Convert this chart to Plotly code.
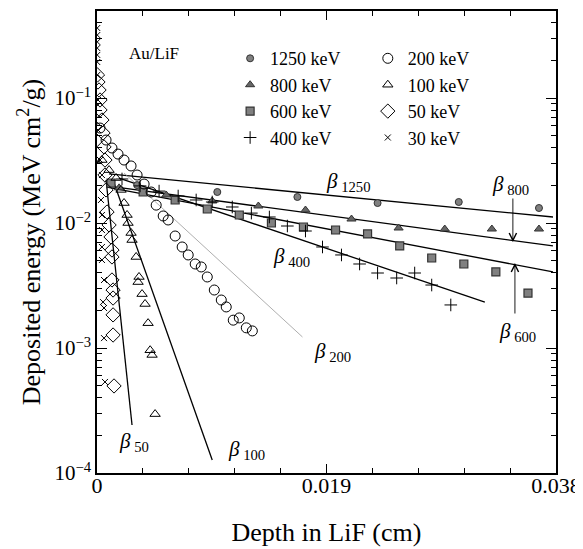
import plotly.graph_objects as go

# depth in LiF (cm) and deposited energy (MeV cm^2/g)
x_1250 = [0.00332, 0.00996, 0.01659, 0.02323, 0.02995, 0.03659]
y_1250 = [0.0201, 0.0177, 0.01615, 0.01445, 0.01472, 0.01318]

x_800 = [0.00183, 0.00573, 0.00954, 0.01336, 0.01726, 0.02107, 0.02497, 0.02879, 0.03269, 0.03659]
y_800 = [0.0191, 0.01675, 0.0150, 0.01368, 0.0127, 0.01076, 0.00912, 0.00895, 0.00895, 0.00895]

x_600 = [0.00116, 0.00382, 0.00647, 0.00913, 0.01178, 0.01444, 0.01709, 0.01975, 0.0224,
         0.02506, 0.02771, 0.03037, 0.03302, 0.03568]
y_600 = [0.0209, 0.0177, 0.01528, 0.01294, 0.01159, 0.0100, 0.00929, 0.00879, 0.00817,
         0.00655, 0.00525, 0.0047, 0.00406, 0.00275]

x_400 = [0.00207, 0.00357, 0.00514, 0.00672, 0.00821, 0.00954, 0.0112, 0.01278, 0.01427, 0.01576,
         0.01726, 0.01867, 0.02024, 0.02174, 0.02323, 0.02481, 0.0263, 0.02771, 0.02929]
y_400 = [0.0225, 0.0198, 0.018, 0.01644, 0.01528, 0.01472, 0.01343, 0.0120, 0.01117, 0.00946,
         0.00863, 0.00643, 0.00555, 0.0047, 0.00398, 0.00363, 0.00398, 0.00319, 0.00221]

x_200 = [0.00025, 0.00075, 0.00124, 0.00174, 0.00224, 0.00282, 0.00332, 0.0039, 0.00448, 0.0049,
         0.00548, 0.00589, 0.00647, 0.00705, 0.00755, 0.00813, 0.00863, 0.00913, 0.00971, 0.01029,
         0.0107, 0.01128, 0.01178, 0.01236, 0.01286]
y_200 = [0.0575, 0.0461, 0.0398, 0.0356, 0.0319, 0.0286, 0.0242, 0.0205, 0.0177, 0.0139,
         0.01138, 0.01057, 0.00787, 0.00643, 0.00555, 0.0047, 0.00445, 0.0037, 0.00291, 0.00242,
         0.00213, 0.00167, 0.00174, 0.00145, 0.00137]

x_100 = [0.00041, 0.001, 0.00158, 0.00199, 0.00224, 0.00249, 0.00257, 0.00282, 0.0029, 0.00324,
         0.0034, 0.00348, 0.00373, 0.00398, 0.00423, 0.0044, 0.00456, 0.00481]
y_100 = [0.0319, 0.0265, 0.0229, 0.0184, 0.01445, 0.01159, 0.0100, 0.00832, 0.00731, 0.00535,
         0.00337, 0.0037, 0.0027, 0.00225, 0.00158, 0.00096, 0.00088, 0.000296]

x_50 = [0.00004, 0.00008, 0.00017, 0.00025, 0.00025, 0.00041, 0.0005, 0.00058, 0.00066, 0.00066,
        0.00075, 0.00083, 0.001, 0.00116, 0.00124, 0.00124, 0.00124, 0.00133, 0.00133, 0.00133,
        0.00133, 0.00141]
y_50 = [0.1528, 0.1343, 0.1159, 0.0964, 0.0802, 0.0667, 0.0525, 0.0406, 0.0319, 0.0242,
        0.0184, 0.01225, 0.00964, 0.00773, 0.00608, 0.00535, 0.0035, 0.00291, 0.00251, 0.00184,
        0.00127, 0.000497]

x_30 = [0.00002, 0.00002, 0.00002, 0.00002, 0.00002, 0.00002, 0.00002, 0.00008, 0.00008, 0.00025,
        0.00041, 0.00033, 0.00041, 0.00041, 0.00041, 0.00041, 0.00058, 0.0005, 0.00058, 0.00058, 0.00066]
y_30 = [0.363, 0.319, 0.281, 0.251, 0.221, 0.194, 0.1528, 0.0964, 0.0555, 0.0319,
        0.0242, 0.01528, 0.01159, 0.00879, 0.00643, 0.00506, 0.0035, 0.00233, 0.00209, 0.0012, 0.000535]

# fitted exponential lines (start / end points)
beta_names = ["1250", "800", "600", "400", "200", "100", "50"]
beta_x = [[0.00099, 0.03775], [0.00083, 0.03775], [0.00083, 0.03775], [0.00183, 0.03211],
          [0.00224, 0.01701], [0.00141, 0.00954], [0.00075, 0.0029]]
beta_y = [[0.0247, 0.01117], [0.0198, 0.00655], [0.0194, 0.00406], [0.0229, 0.00233],
          [0.0251, 0.001225], [0.0209, 0.000127], [0.0221, 0.000242]]
# label anchor (left edge, log10 of y)
beta_label_x = [0.01883, 0.03252, 0.0331, 0.01444, 0.01784, 0.0107, 0.00166]
beta_label_logy = [-1.672, -1.696, -2.872, -2.272, -3.032, -3.816, -3.752]

minor_y = [m * 10.0 ** e for e in range(-4, 0) for m in range(2, 10)]

FONT = "Liberation Serif"
DARK = "#333333"
GRAY = "#808080"

fig = go.Figure()

for i, name in enumerate(beta_names):
    fig.add_trace(go.Scatter(
        x=beta_x[i], y=beta_y[i], mode="lines",
        line=dict(color="#999999" if name == "200" else "black", width=0.8 if name == "200" else 1.3),
        showlegend=False, hoverinfo="skip",
    ))

series = [
    ("1250 keV", x_1250, y_1250, dict(symbol="circle", size=7, color=GRAY, line=dict(color=DARK, width=1)), "legend"),
    ("800 keV", x_800, y_800, dict(symbol="triangle-up", size=8, color="#666666", line=dict(color=DARK, width=1)), "legend"),
    ("600 keV", x_600, y_600, dict(symbol="square", size=8, color=GRAY, line=dict(color=DARK, width=1.2)), "legend"),
    ("400 keV", x_400, y_400, dict(symbol="cross-thin", size=9, color="black", line=dict(color="black", width=1)), "legend"),
    ("200 keV", x_200, y_200, dict(symbol="circle-open", size=10, color="black", line=dict(width=1)), "legend2"),
    ("100 keV", x_100, y_100, dict(symbol="triangle-up-open", size=9, color="black", line=dict(width=1)), "legend2"),
    ("50 keV", x_50, y_50, dict(symbol="diamond-open", size=11, color="black", line=dict(width=1)), "legend2"),
    ("30 keV", x_30, y_30, dict(symbol="x-thin", size=6, color="black", line=dict(color="black", width=1)), "legend2"),
]
for name, xs, ys, mk, lg in series:
    fig.add_trace(go.Scatter(
        x=xs, y=ys, mode="markers", name=name, marker=mk,
        legend=lg, legendgroup=name,
    ))

annotations = []
for i, name in enumerate(beta_names):
    annotations.append(dict(
        x=beta_label_x[i], y=beta_label_logy[i], xref="x", yref="y",
        text="<i>β</i><sub> " + name + "</sub>", showarrow=False,
        xanchor="left", yanchor="middle",
        font=dict(family=FONT, size=21, color="black"),
    ))
annotations.append(dict(
    x=0.00249, y=-0.64, xref="x", yref="y", text="Au/LiF", showarrow=False,
    xanchor="left", yanchor="middle", font=dict(family=FONT, size=17, color="black"),
))
# arrows pointing to the 800 and 600 keV fits
annotations.append(dict(
    x=0.03443, y=-2.152, xref="x", yref="y", ax=0.03443, ay=-1.792, axref="x", ayref="y",
    text="", showarrow=True, arrowhead=5, arrowsize=1.6, arrowwidth=0.9, arrowcolor="black",
))
annotations.append(dict(
    x=0.0346, y=-2.32, xref="x", yref="y", ax=0.0346, ay=-2.736, axref="x", ayref="y",
    text="", showarrow=True, arrowhead=5, arrowsize=1.6, arrowwidth=0.9, arrowcolor="black",
))

legend_style = dict(
    xanchor="left", yanchor="top", bgcolor="rgba(0,0,0,0)",
    font=dict(family=FONT, size=18, color="black"), tracegroupgap=0,
    itemwidth=30,
)

# the page body has an 8px margin, so the figure is 8px smaller and shifted
fig.update_layout(
    width=575, height=541,
    margin=dict(l=89, r=27, t=3, b=76),
    plot_bgcolor="white", paper_bgcolor="white",
    font=dict(family=FONT, color="black"),
    annotations=annotations,
    legend=dict(x=0.29, y=0.937, **legend_style),
    legend2=dict(x=0.59, y=0.937, **legend_style),
    xaxis=dict(
        range=[0, 0.038], showgrid=False, zeroline=False, automargin=False,
        showline=True, linecolor="black", linewidth=1.5, mirror="ticks",
        ticks="inside", ticklen=9, tickwidth=1.2, tickcolor="black",
        tickvals=[0, 0.019, 0.038], ticktext=["0", "0.019", "0.038"],
        ticklabelstandoff=-8,
        minor=dict(ticks="inside", ticklen=5, tickwidth=1, tickcolor="black", dtick=0.0038, tick0=0),
        tickfont=dict(family=FONT, size=22),
        title=dict(text="Depth in LiF (cm)", font=dict(family=FONT, size=26), standoff=26),
    ),
    yaxis=dict(
        type="log", range=[-4, -0.304], showgrid=False, zeroline=False, automargin=False,
        showline=True, linecolor="black", linewidth=1.5, mirror="ticks",
        ticks="inside", ticklen=10, tickwidth=1.2, tickcolor="black",
        tickvals=[1e-4, 1e-3, 1e-2, 1e-1],
        ticktext=["10<sup>−4</sup>", "10<sup>−3</sup>", "10<sup>−2</sup>", "10<sup>−1</sup>"],
        minor=dict(ticks="inside", ticklen=5, tickwidth=1, tickcolor="black",
                   tickmode="array", tickvals=minor_y),
        tickfont=dict(family=FONT, size=21),
        title=dict(text="Deposited energy (MeV cm<sup>2</sup>/g)", font=dict(family=FONT, size=26), standoff=6),
    ),
)

fig.write_html("out.html")
